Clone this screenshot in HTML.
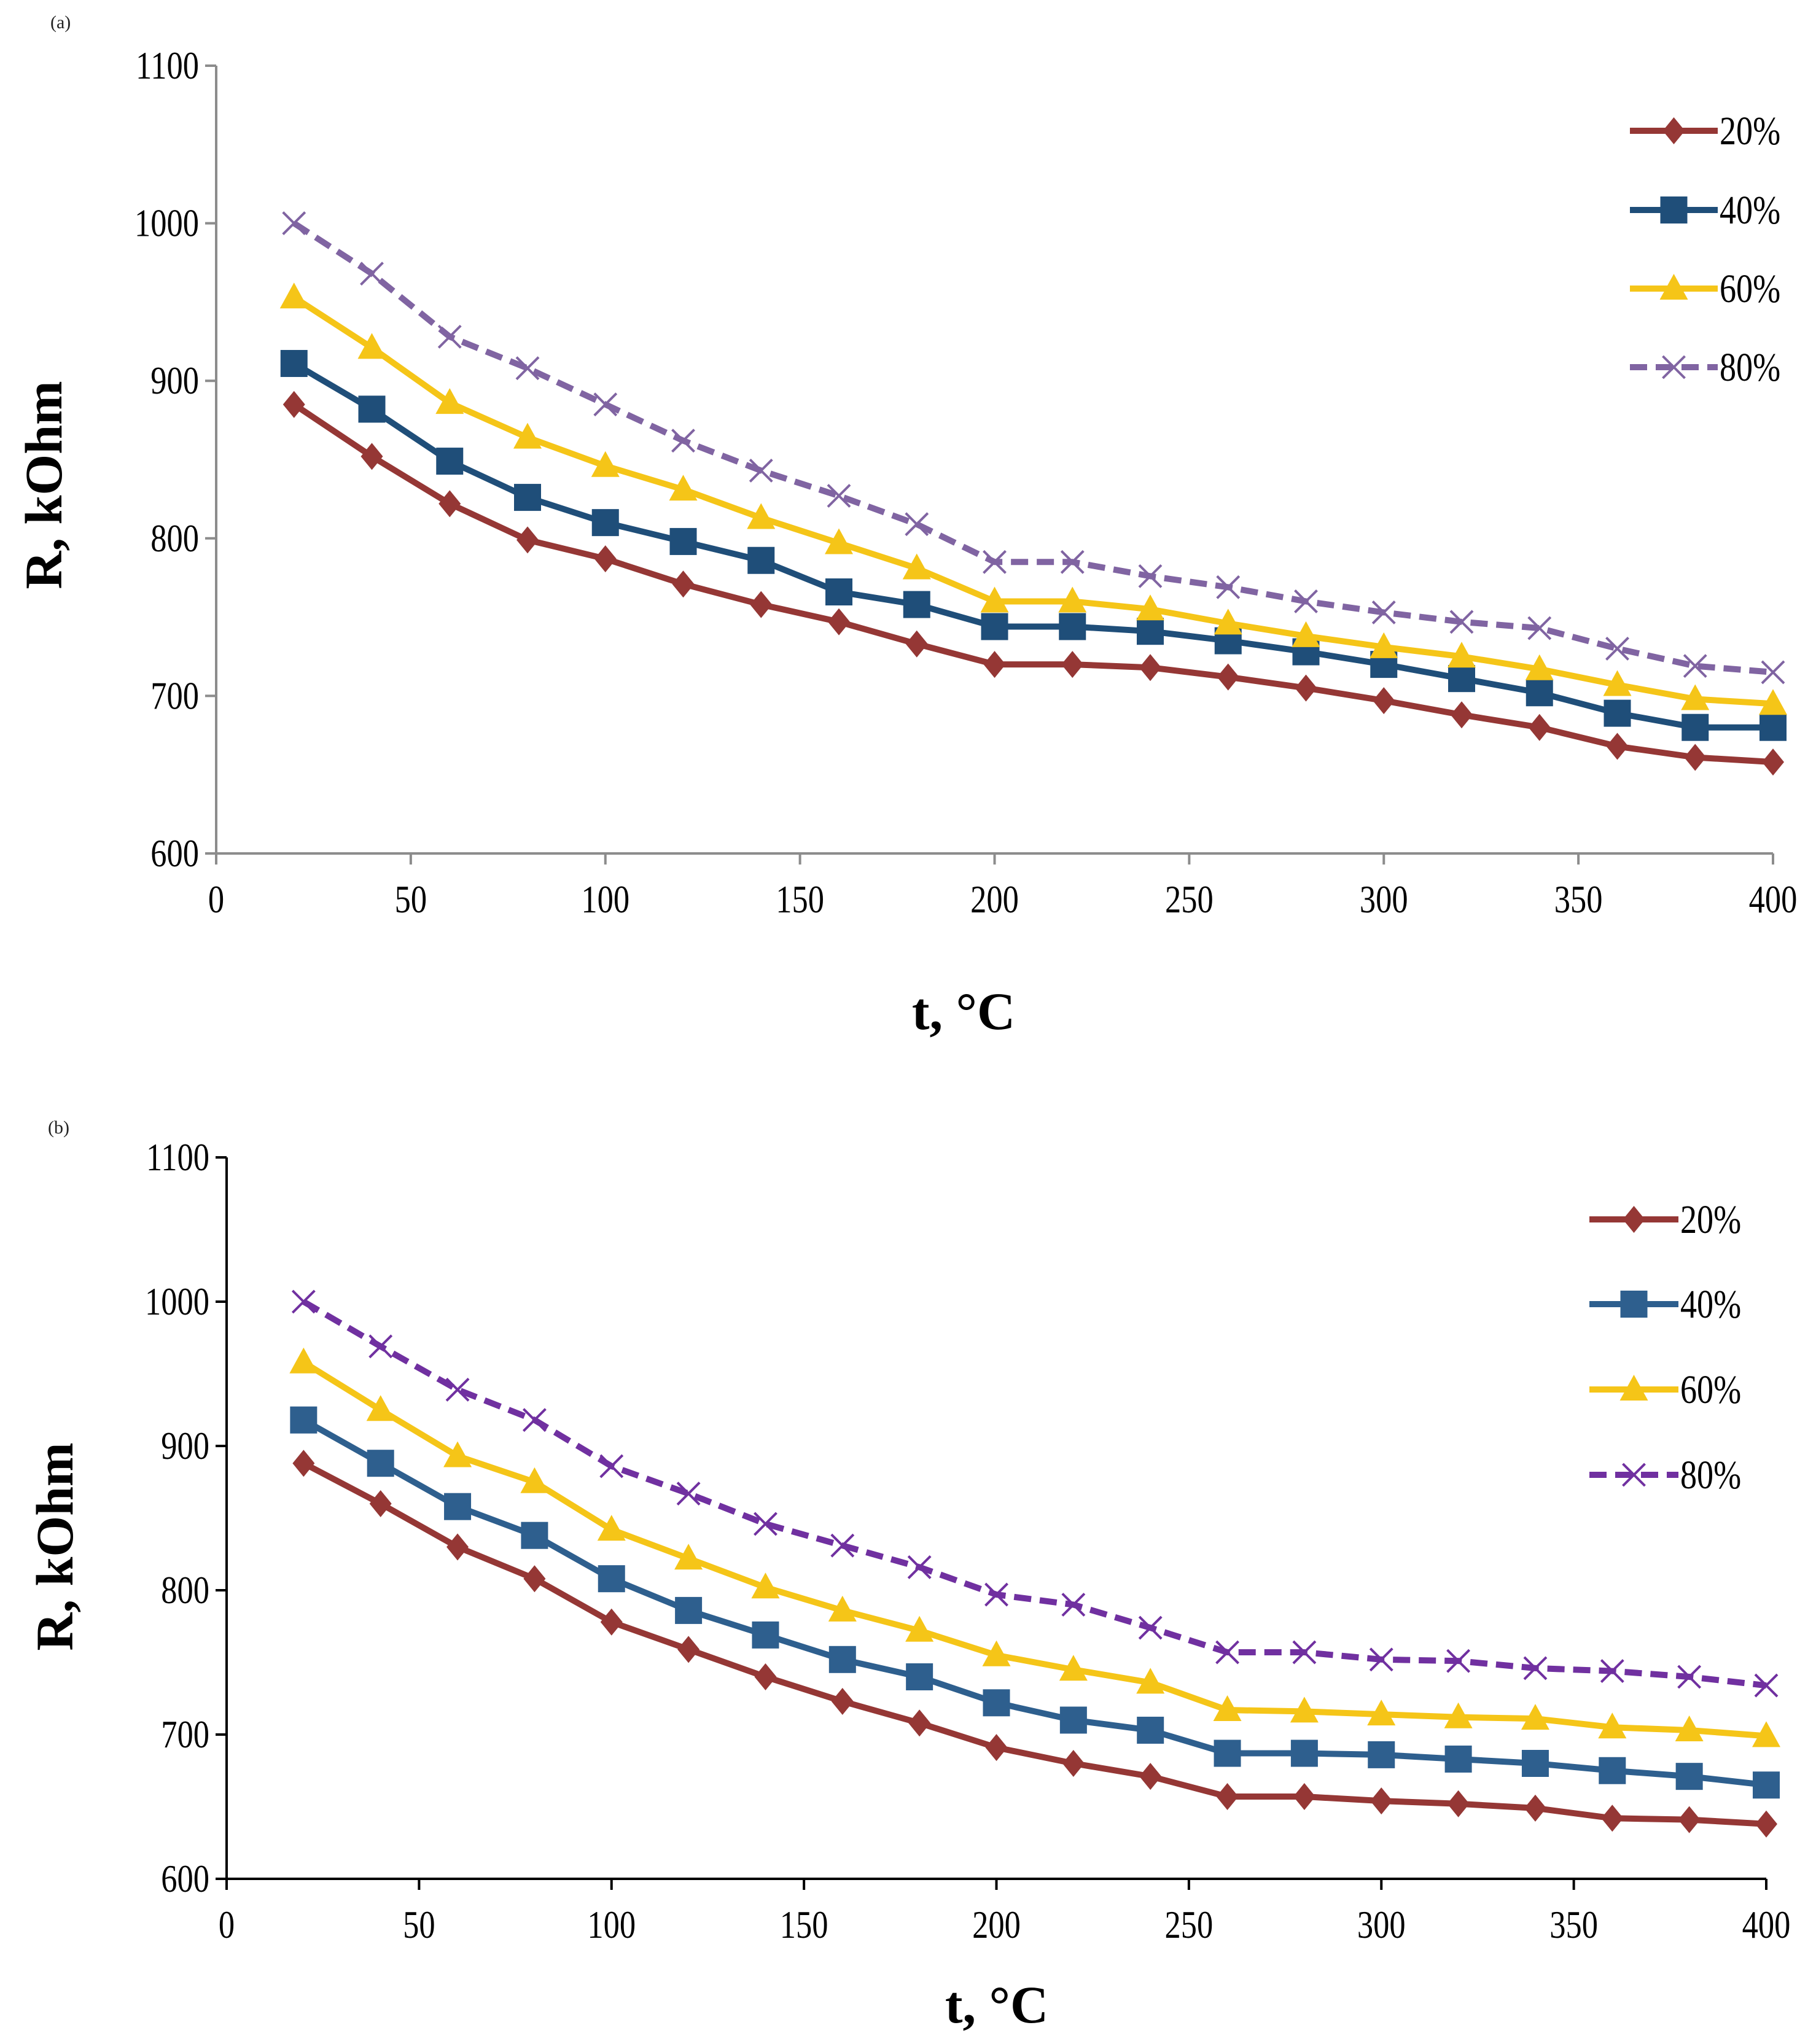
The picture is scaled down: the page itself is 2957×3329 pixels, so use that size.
<!DOCTYPE html>
<html><head><meta charset="utf-8"><style>
html,body{margin:0;padding:0;background:#fff;}
svg{display:block;font-family:"Liberation Serif",serif;}
text{font-family:"Liberation Serif",serif;}
</style></head><body>
<svg id="root" width="2957" height="3329" viewBox="0 0 2957 3329" xmlns="http://www.w3.org/2000/svg"></svg>
<script>
const temps = [20,40,60,80,100,120,140,160,180,200,220,240,260,280,300,320,340,360,380,400];
const seriesNames = ["20%","40%","60%","80%"];
const xTicks = [0,50,100,150,200,250,300,350,400];
const yTicks = [600,700,800,900,1000,1100];
const a20 = [885,852,822,799,787,771,758,747,733,720,720,718,712,705,697,688,680,668,661,658];
const a40 = [911,882,849,826,810,798,786,766,758,744,744,741,735,728,720,711,702,689,680,680];
const a60 = [953,921,886,864,846,831,813,797,781,760,760,755,746,738,731,725,717,707,698,695];
const a80 = [1000,968,928,908,885,862,843,827,809,785,785,776,769,760,753,747,743,730,719,715];
const b20 = [888,860,830,808,778,759,740,723,708,691,680,671,657,657,654,652,649,642,641,638];
const b40 = [918,888,858,838,808,786,769,752,740,722,710,703,687,687,686,683,680,675,671,665];
const b60 = [958,925,893,875,842,822,802,786,772,755,745,736,717,716,714,712,711,705,703,699];
const b80 = [1000,969,939,918,886,867,846,831,816,797,790,774,757,757,752,751,746,744,740,734];

const NS="http://www.w3.org/2000/svg";
const root=document.getElementById('root');
function mk(tag,attrs,parent){const e=document.createElementNS(NS,tag);for(const k in attrs)e.setAttribute(k,attrs[k]);(parent||root).appendChild(e);return e;}
function ctext(parent,x,y,str,size,anchor){
  const t=mk('text',{x:0,y:0,'font-size':size,'text-anchor':anchor,transform:`translate(${x},${y}) scale(0.82,1)`},parent);
  t.textContent=str;return t;
}

function marker(g,type,cx,cy,color){
  let m;
  if(type==='diamond') m=mk('polygon',{points:`${cx},${cy-22} ${cx+18},${cy} ${cx},${cy+22} ${cx-18},${cy}`,fill:color},g);
  else if(type==='square') m=mk('rect',{x:cx-22,y:cy-22,width:44,height:44,fill:color},g);
  else if(type==='triangle') m=mk('polygon',{points:`${cx},${cy-24} ${cx+23},${cy+18} ${cx-23},${cy+18}`,fill:color},g);
  else { m=mk('path',{d:`M${cx-18},${cy-18}L${cx+18},${cy+18}M${cx+18},${cy-18}L${cx-18},${cy+18}`,stroke:color,'stroke-width':4,fill:'none'},g); }
  return m;
}

function chart(cfg){
  const {x0,x1,y0,y1,axisColor,id,series,label,labelPos,yTitle,xTitle,legX,legText,legY}=cfg;
  const xs=v=>x0+(v-0)/400*(x1-x0);
  const ys=v=>y0-(v-600)/500*(y0-y1);
  const g=mk('g',{});
  
  
  const lab=mk('text',{x:labelPos[0],y:labelPos[1],'font-size':30,fill:'#222'},g);lab.textContent=label;
  
  const ya=mk('line',{x1:x0,y1:y1,x2:x0,y2:y0,stroke:axisColor,'stroke-width':4},g);
  
  const xa=mk('line',{x1:x0,y1:y0,x2:x1,y2:y0,stroke:axisColor,'stroke-width':4},g);
  
  yTicks.forEach(v=>{
    const y=ys(v);
    mk('line',{x1:x0-18,y1:y,x2:x0,y2:y,stroke:axisColor,'stroke-width':4},g);
    const t=ctext(g,x0-28,y+21,String(v),64,'end');
    
  });
  xTicks.forEach(v=>{
    const x=xs(v);
    mk('line',{x1:x,y1:y0,x2:x,y2:y0+18,stroke:axisColor,'stroke-width':4},g);
    const t=ctext(g,x,y0+96,String(v),64,'middle');
    
  });
  const yt=mk('text',{x:0,y:0,'font-size':86,'font-weight':'bold','text-anchor':'middle',transform:`translate(${yTitle[0]},${yTitle[1]}) rotate(-90)`},g);
  yt.textContent='R, kOhm';
  const xt=mk('text',{x:xTitle[0],y:xTitle[1],'font-size':86,'font-weight':'bold','text-anchor':'middle'},g);
  xt.textContent='t, °C';
  series.forEach((s,i)=>{
    const sg=mk('g',{},g);
    
    
    const pts=s.vals.map((v,j)=>xs(temps[j])+','+ys(v)).join(' ');
    const pl=mk('polyline',{points:pts,fill:'none',stroke:s.color,'stroke-width':10,'stroke-linejoin':'round','stroke-dasharray':s.dash||'none'},sg);
    
    s.vals.forEach((v,j)=>{
      const m=marker(sg,s.marker,xs(temps[j]),ys(v),s.mcolor||s.color);
      
    });
    const ly=legY[i];
    const lg=mk('g',{},g);
    
    
    mk('line',{x1:legX[0],y1:ly,x2:legX[1],y2:ly,stroke:s.color,'stroke-width':10,'stroke-dasharray':s.dash||'none'},lg);
    marker(lg,s.marker,(legX[0]+legX[1])/2,ly,s.mcolor||s.color);
    ctext(lg,legText,ly+22,seriesNames[i],66,'start');
  });
}

chart({id:'chart-a',x0:352,x1:2887,y0:1390,y1:107,axisColor:'#8c8c8c',label:'(a)',labelPos:[82,46],
  yTitle:[100,790],xTitle:[1569,1676],legX:[2654,2797],legText:2800,legY:[213,342,470,598],
  series:[{vals:a20,color:'#953735',marker:'diamond'},{vals:a40,color:'#1f4e79',marker:'square'},
          {vals:a60,color:'#f5c518',marker:'triangle'},{vals:a80,color:'#8064a2',marker:'x',dash:'28 14'}]});
chart({id:'chart-b',x0:369,x1:2876,y0:3060,y1:1885,axisColor:'#000',label:'(b)',labelPos:[78,1846],
  yTitle:[118,2519],xTitle:[1623,3294],legX:[2588,2733],legText:2736,legY:[1986,2124,2263,2402],
  series:[{vals:b20,color:'#953735',marker:'diamond'},{vals:b40,color:'#2e5f8e',marker:'square'},
          {vals:b60,color:'#f5c518',marker:'triangle'},{vals:b80,color:'#7030a0',marker:'x',dash:'28 14'}]});
</script>
</body></html>
